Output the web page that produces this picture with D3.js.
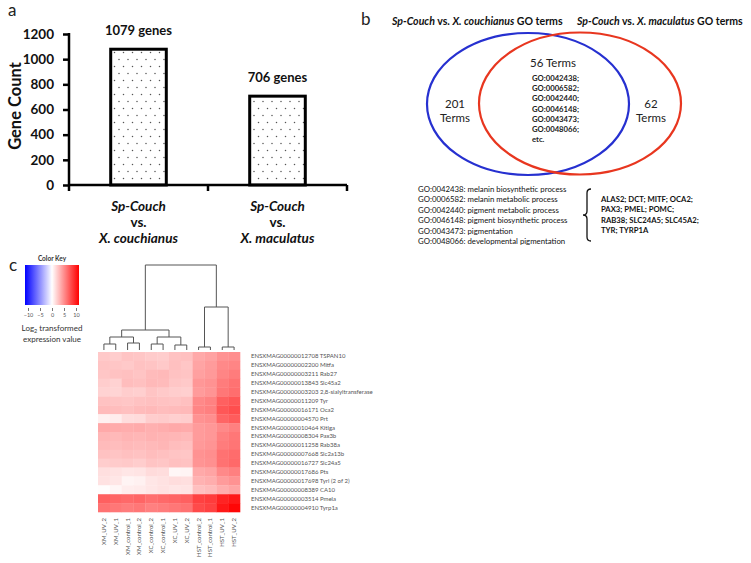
<!DOCTYPE html>
<html><head><meta charset="utf-8">
<script src="https://cdn.jsdelivr.net/npm/d3@7"></script>
<style>body{margin:0;background:#fff} svg{display:block}</style>
</head><body><svg id="c" width="751" height="563"></svg>
<script>
// ---------- data ----------
const barCategories = ["couchianus", "maculatus"];
const barLabelLines = [
  [[{t:"Sp-Couch",i:1}],[{t:"vs."}],[{t:"X. couchianus",i:1}]],
  [[{t:"Sp-Couch",i:1}],[{t:"vs."}],[{t:"X. maculatus",i:1}]]
];
const barValues = [1079, 706];
const barTexts = ["1079 genes", "706 genes"];
const yTicks = [0, 200, 400, 600, 800, 1000, 1200];

const vennLeft = ["201", "Terms"];
const vennRight = ["62", "Terms"];
const vennShared = "56 Terms";
const sharedGO = ["GO:0042438;","GO:0006582;","GO:0042440;","GO:0046148;","GO:0043473;","GO:0048066;","etc."];
const goDescriptions = [
  "GO:0042438: melanin biosynthetic process",
  "GO:0006582: melanin metabolic process",
  "GO:0042440: pigment metabolic process",
  "GO:0046148: pigment biosynthetic process",
  "GO:0043473: pigmentation",
  "GO:0048066: developmental pigmentation"
];
const geneList = ["ALAS2; DCT; MITF; OCA2;","PAX3; PMEL; POMC;","RAB38; SLC24A5; SLC45A2;","TYR; TYRP1A"];

const samples = ["XM_UV_2","XM_UV_1","XM_control_1","XM_control_2","XC_control_2","XC_control_1","XC_UV_1","XC_UV_2","HST_control_2","HST_control_1","HST_UV_1","HST_UV_2"];
const genes = [
  "ENSXMAG00000012708 TSPAN10","ENSXMAG00000002200 Mitfa","ENSXMAG00000003211 Rab27",
  "ENSXMAG00000013843 Slc45a2","ENSXMAG00000003203 2,8-sialyltransferase","ENSXMAG00000011209 Tyr",
  "ENSXMAG00000016171 Oca2","ENSXMAG00000004570 Prt","ENSXMAG00000010464 Kitlga",
  "ENSXMAG00000008304 Pax3b","ENSXMAG00000011258 Rab38a","ENSXMAG00000007668 Slc2a13b",
  "ENSXMAG00000016727 Slc24a5","ENSXMAG00000017686 Pts","ENSXMAG00000017698 Tyrl (2 of 2)",
  "ENSXMAG00000008389 CA10","ENSXMAG00000003514 Pmela","ENSXMAG00000004910 Tyrp1a"
];
const expression = [
  [2.4,2.2,2.6,2.5,2.3,2.2,2.7,2.8,3.8,4.1,4.8,5.0],
  [2.6,2.5,2.4,2.7,2.6,2.4,2.8,2.5,4.0,4.4,5.2,5.4],
  [2.5,2.7,2.8,2.6,3.0,3.1,2.7,2.6,4.2,4.5,5.4,5.8],
  [2.2,2.0,2.9,2.8,3.1,3.0,2.5,2.4,4.6,4.8,5.8,6.2],
  [2.0,1.9,2.2,2.1,2.6,2.4,2.2,2.1,4.4,4.7,6.0,6.4],
  [2.7,2.6,2.5,2.7,2.8,2.7,2.6,2.8,5.2,5.5,7.0,7.4],
  [3.0,2.9,2.8,3.0,3.1,2.9,3.0,3.1,5.4,5.6,7.4,7.8],
  [0.6,0.8,1.5,1.6,2.2,2.3,2.1,2.2,4.8,5.0,6.8,7.2],
  [3.8,3.7,3.6,3.7,3.5,3.6,3.8,3.7,4.4,4.6,5.2,5.6],
  [3.2,3.1,3.3,3.2,3.4,3.3,3.2,3.1,4.4,4.6,5.6,6.0],
  [3.0,2.9,3.1,3.0,3.1,3.2,2.9,2.8,4.5,4.7,5.8,6.1],
  [2.7,2.6,2.8,2.7,2.9,2.8,2.6,2.5,4.8,5.0,6.2,6.5],
  [2.2,2.3,2.4,2.2,2.6,2.5,2.8,2.7,4.7,4.9,6.2,6.6],
  [1.4,1.3,1.1,1.2,1.6,1.5,0.4,0.5,3.8,4.0,5.2,5.6],
  [1.3,1.1,0.5,0.6,1.1,1.3,1.5,1.4,3.4,3.6,4.4,4.8],
  [0.1,0.4,0.8,0.9,1.1,1.3,1.1,1.2,2.8,3.0,3.6,4.0],
  [7.0,6.8,6.6,6.8,6.4,6.6,6.8,7.0,8.4,8.6,9.7,10.2],
  [6.2,6.0,5.8,6.0,5.6,5.8,6.0,6.2,8.0,8.4,10.2,11.0]
];
const keyTicks = [-10, -5, 0, 5, 10];
// dendrogram merges: [childA, childB, height]; leaves 0..11, merge k -> node 12+k
const dendroMerges = [
  [0,1,6],[2,3,7],[12,13,13],[4,5,6],[6,7,5],[15,16,13],[14,17,20],
  [8,9,3],[10,11,3],[19,20,43],[18,21,85]
];

// ---------- drawing ----------
const FONT = "Lato, 'Open Sans', sans-serif";

function richText(sel, parts) {
  parts.forEach(p => sel.append("tspan").attr("font-style", p.i ? "italic" : "normal").text(p.t));
  return sel;
}
function fitWidth(sel, target) {
  for (let k = 0; k < 3; k++) {
    const fs = parseFloat(sel.attr("font-size"));
    const w = sel.node().getBBox().width;
    if (w > 0) sel.attr("font-size", (fs * target / w).toFixed(2));
  }
  return +sel.attr("font-size");
}

function draw() {
const svg = d3.select("#c").style("font-family", FONT);

// panel labels
[["a",8,16],["b",361,25],["c",9,271]].forEach(([t,x,y]) =>
  svg.append("text").attr("x",x).attr("y",y).attr("font-size",17).attr("fill","#222").text(t));

// ===== Panel a =====
const defs = svg.append("defs");
const pat = defs.append("pattern").attr("id","dots").attr("patternUnits","userSpaceOnUse")
  .attr("width",9).attr("height",14);
pat.append("rect").attr("width",9).attr("height",14).attr("fill","#fff");
pat.append("circle").attr("cx",2).attr("cy",3.5).attr("r",0.75).attr("fill","#555");
pat.append("circle").attr("cx",6.5).attr("cy",10.5).attr("r",0.75).attr("fill","#555");

const yA = d3.scaleLinear().domain([0,1200]).range([185,34]);
const xA = d3.scaleBand().domain(barCategories).range([69,347]).paddingInner(0.6).paddingOuter(0.3);
const gA = svg.append("g");

gA.selectAll("rect.bar").data(barValues).join("rect").attr("class","bar")
  .attr("x",(d,i)=>xA(barCategories[i])).attr("width",xA.bandwidth())
  .attr("y",d=>yA(d)).attr("height",d=>yA(0)-yA(d))
  .attr("fill","url(#dots)").attr("stroke","#000").attr("stroke-width",3);

gA.selectAll("text.bv").data(barValues).join("text").attr("class","bv")
  .attr("x",(d,i)=>xA(barCategories[i])+xA.bandwidth()/2).attr("y",d=>yA(d)-14)
  .attr("text-anchor","middle").attr("font-size",13).attr("font-weight","bold").attr("fill","#111")
  .text((d,i)=>barTexts[i]);

const yAxis = gA.append("g").attr("transform","translate(69,0)")
  .call(d3.axisLeft(yA).tickValues(yTicks).tickFormat(d3.format("d")).tickSize(6).tickSizeOuter(0).tickPadding(9));
yAxis.select(".domain").remove();
yAxis.selectAll("line").attr("stroke","#000").attr("stroke-width",2.5);
yAxis.selectAll("text").attr("font-size",13.5).attr("font-weight","bold").attr("fill","#111").attr("font-family",FONT);
gA.append("line").attr("x1",69).attr("x2",69).attr("y1",yA(1200)-1).attr("y2",191).attr("stroke","#000").attr("stroke-width",2.5);
gA.append("line").attr("x1",68).attr("x2",347).attr("y1",yA(0)).attr("y2",yA(0)).attr("stroke","#000").attr("stroke-width",2.5);
const stepA = xA.step();
[xA(barCategories[1]) - xA.paddingInner()*stepA/2, 347].forEach(x =>
  gA.append("line").attr("x1",x).attr("x2",x).attr("y1",yA(0)).attr("y2",191).attr("stroke","#000").attr("stroke-width",2.5));

gA.append("text").attr("transform","translate(21,106) rotate(-90)").attr("text-anchor","middle")
  .attr("font-size",16.5).attr("font-weight","bold").attr("fill","#111").text("Gene Count");

barCategories.forEach((c,i) => {
  const cx = xA(c) + xA.bandwidth()/2;
  barLabelLines[i].forEach((line,j) => {
    const t = gA.append("text").attr("x",cx).attr("y",211 + j*16).attr("text-anchor","middle")
      .attr("font-size",13.5).attr("font-weight","bold").attr("fill","#111");
    richText(t, line);
  });
});

// ===== Panel b =====
const gB = svg.append("g");
const hdr1 = gB.append("text").attr("x",392).attr("y",25).attr("font-size",11).attr("font-weight","bold").attr("fill","#111");
richText(hdr1,[{t:"Sp-Couch",i:1},{t:" vs. "},{t:"X. couchianus",i:1},{t:" GO terms"}]);
fitWidth(hdr1, 172);
const hdr2 = gB.append("text").attr("x",577).attr("y",25).attr("font-size",11).attr("font-weight","bold").attr("fill","#111");
richText(hdr2,[{t:"Sp-Couch",i:1},{t:" vs. "},{t:"X. maculatus",i:1},{t:" GO terms"}]);
fitWidth(hdr2, 167);

gB.append("ellipse").attr("cx",528).attr("cy",104).attr("rx",101).attr("ry",71)
  .attr("fill","none").attr("stroke","#2630d0").attr("stroke-width",2.2);
gB.append("ellipse").attr("cx",580).attr("cy",103.5).attr("rx",101).attr("ry",71)
  .attr("fill","none").attr("stroke","#e8361f").attr("stroke-width",2.2);

vennLeft.forEach((t,i)=> gB.append("text").attr("x",455).attr("y",108+i*14).attr("text-anchor","middle")
  .attr("font-size",11.5).attr("fill","#222").text(t));
vennRight.forEach((t,i)=> gB.append("text").attr("x",651).attr("y",108+i*14).attr("text-anchor","middle")
  .attr("font-size",11.5).attr("fill","#222").text(t));
gB.append("text").attr("x",553).attr("y",67).attr("text-anchor","middle").attr("font-size",11.5).attr("fill","#222").text(vennShared);
const goSel = gB.selectAll("text.sg").data(sharedGO).join("text").attr("class","sg")
  .attr("x",532).attr("y",(d,i)=>81+i*10.2)
  .attr("font-size",8).attr("font-weight","bold").attr("fill","#222").text(d=>d);
const sgFs = fitWidth(d3.select(goSel.nodes()[0]), 47);
goSel.attr("font-size", sgFs);

const descSel = gB.selectAll("text.gd").data(goDescriptions).join("text").attr("class","gd")
  .attr("x",418).attr("y",(d,i)=>192+i*10.4).attr("font-size",8.2).attr("fill","#111").text(d=>d);
const dFs = fitWidth(d3.select(descSel.nodes()[0]), 149);
descSel.attr("font-size", dFs);

const geneSel = gB.selectAll("text.gl").data(geneList).join("text").attr("class","gl")
  .attr("x",601).attr("y",(d,i)=>202+i*10.4).attr("font-size",8.2).attr("font-weight","bold").attr("fill","#111").text(d=>d);
const gFs = fitWidth(d3.select(geneSel.nodes()[0]), 93);
geneSel.attr("font-size", gFs);

gB.append("path").attr("d","M591,189 Q587,189 587,193 L587,211 Q587,215 583,215 Q587,215 587,219 L587,237 Q587,241 591,241")
  .attr("fill","none").attr("stroke","#111").attr("stroke-width",1.3);

// ===== Panel c =====
const gC = svg.append("g");
const colour = d3.scaleLinear().domain([-11.25,0,11.25]).range(["#0000ff","#ffffff","#ff0000"]);
const kx = d3.scaleLinear().domain([-11.25,11.25]).range([25,79]);
const grad = defs.append("linearGradient").attr("id","kgrad");
d3.range(0,1.0001,0.05).forEach(f => grad.append("stop").attr("offset",f)
  .attr("stop-color", colour(-11.25 + f*22.5)));
gC.append("rect").attr("x",kx(-11.25)).attr("y",265).attr("width",kx(11.25)-kx(-11.25)).attr("height",40)
  .attr("fill","url(#kgrad)");
gC.append("text").attr("x",52).attr("y",261).attr("text-anchor","middle").attr("font-size",6.5)
  .attr("font-weight","bold").attr("fill","#333").text("Color Key");
const keyAxis = gC.append("g").attr("transform","translate(0,308)")
  .call(d3.axisBottom(kx).tickValues(keyTicks).tickSize(3).tickPadding(2).tickSizeOuter(0));
keyAxis.select(".domain").remove();
keyAxis.selectAll("line").attr("stroke","#777");
keyAxis.selectAll("text").attr("font-size",5.5).attr("fill","#555").attr("font-family",FONT);
const lg = gC.append("text").attr("x",52).attr("y",331).attr("text-anchor","middle").attr("font-size",8).attr("fill","#333");
lg.append("tspan").text("Log");
lg.append("tspan").attr("font-size",5.5).attr("dy",2).text("2");
lg.append("tspan").attr("dy",-2).text(" transformed");
gC.append("text").attr("x",52).attr("y",342).attr("text-anchor","middle").attr("font-size",8).attr("fill","#333").text("expression value");

// heatmap
const xH = d3.scaleBand().domain(samples).range([98,240]);
const yH = d3.scaleBand().domain(genes).range([352,512]);
const cells = [];
expression.forEach((row,r)=> row.forEach((v,c)=> cells.push({g:genes[r], s:samples[c], v})));
gC.selectAll("rect.cell").data(cells).join("rect").attr("class","cell")
  .attr("x",d=>xH(d.s)).attr("y",d=>yH(d.g)).attr("width",xH.bandwidth()+0.3).attr("height",yH.bandwidth()+0.3)
  .attr("fill",d=>colour(d.v));

gC.selectAll("text.rl").data(genes).join("text").attr("class","rl")
  .attr("x",251).attr("y",d=>yH(d)+yH.bandwidth()/2+2).attr("font-size",6).attr("fill","#555").text(d=>d);
gC.selectAll("text.cl").data(samples).join("text").attr("class","cl")
  .attr("transform",d=>`translate(${xH(d)+xH.bandwidth()/2+2},518) rotate(-90)`)
  .attr("text-anchor","end").attr("font-size",6).attr("fill","#555").text(d=>d);

// dendrogram
const hY = d3.scaleLinear().domain([0,85]).range([350,265]);
const nodes = samples.map((s)=>({x:xH(s)+xH.bandwidth()/2, h:0}));
const dpath = d3.path();
dendroMerges.forEach(([a,b,h])=>{
  const A = nodes[a], B = nodes[b];
  dpath.moveTo(A.x, hY(A.h)); dpath.lineTo(A.x, hY(h)); dpath.lineTo(B.x, hY(h)); dpath.lineTo(B.x, hY(B.h));
  nodes.push({x:(A.x+B.x)/2, h});
});
gC.append("path").attr("d",dpath.toString()).attr("fill","none").attr("stroke","#555").attr("stroke-width",1);
}

const fontLoads = ["bold 11px Lato","italic bold 11px Lato","11px Lato","italic 11px Lato"]
  .map(f => document.fonts.load(f).catch(()=>null));
Promise.all(fontLoads).then(draw, draw);
</script></body></html>
